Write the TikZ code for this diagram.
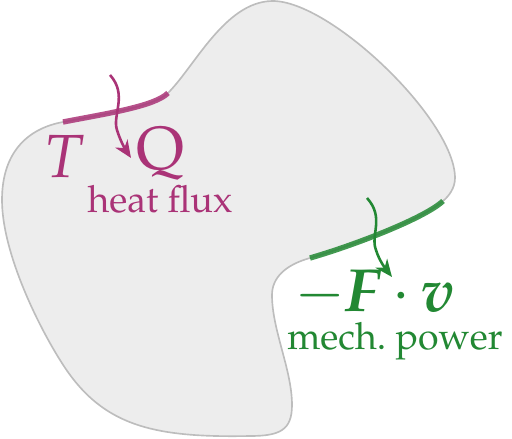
\documentclass[tikz,border=0pt]{standalone}
\usepackage[T1]{fontenc}
\usepackage{amsmath}
\usepackage{mathpazo}
\usetikzlibrary{arrows.meta}
\definecolor{heatc}{HTML}{AA3377}
\definecolor{workc}{HTML}{228833}
\definecolor{bodyfill}{HTML}{EDEDED}
\definecolor{bodyline}{HTML}{BDBDBD}
\begin{document}
\begin{tikzpicture}[
    x=0.015cm, y=-0.015cm,
    >={Stealth[length=2.6mm, width=2.2mm, inset=0.8mm]},
    body/.style    = {draw=bodyline, fill=bodyfill, line width=0.7pt},
    edge/.style    = {line width=2.3pt, opacity=0.85},
    flow/.style    = {->, line width=1.1pt},
    sym/.style     = {inner sep=0pt, anchor=base, font=\fontsize{26}{30}\selectfont},
    caption/.style = {inner sep=0pt, anchor=base, font=\fontsize{16}{19}\selectfont}
]
\useasboundingbox (0,0) rectangle (512,439);

% Control volume
\draw[body] (63,122) .. controls (110,113) and (155,106) .. (168,93)
    .. controls (195,66) and (225,2) .. (272,1)
    .. controls (330,0) and (455,120) .. (455,178)
    .. controls (455,188) and (449,196) .. (443,201)
    .. controls (425,218) and (355,245) .. (310,258)
    .. controls (285,265) and (272,278) .. (272,295)
    .. controls (272,330) and (292,370) .. (292,405)
    .. controls (292,430) and (280,436) .. (250,436)
    .. controls (150,438) and (100,425) .. (60,360)
    .. controls (35,320) and (2,250) .. (2,200)
    .. controls (2,150) and (30,128) .. (63,122) -- cycle;

% Boundary patches
\draw[edge, heatc] (63,122) .. controls (110,113) and (155,106) .. (168,93);
\draw[edge, workc] (443,201) .. controls (425,218) and (355,245) .. (310,258);

% Heat input
\node[sym, text=heatc] (T) at (65,178) {\textit{T}};
\node[sym, text=heatc] (Q) at (160,170) {Q};
\node[caption, text=heatc] (heat) at (160,213) {heat flux};
\coordinate (qin)  at (110,75);
\coordinate (qout) at (131,158);
\draw[flow, heatc] (qin) .. controls (128,95) and (112,115) .. (117,130)
    .. controls (120,140) and (125,149) .. (qout);

% Mechanical input
\node[sym, text=workc] (Fv) at (375,312)
    {$-$\textbf{\textit{F}}\,$\cdot$\,\textbf{\textit{v}}};
\node[caption, text=workc] (mech) at (395,350) {mech.\ power};
\coordinate (win)  at (367,198);
\coordinate (wout) at (392,277);
\draw[flow, workc] (win) .. controls (385,218) and (370,235) .. (376,250)
    .. controls (379,260) and (385,268) .. (wout);

\end{tikzpicture}
\end{document}
